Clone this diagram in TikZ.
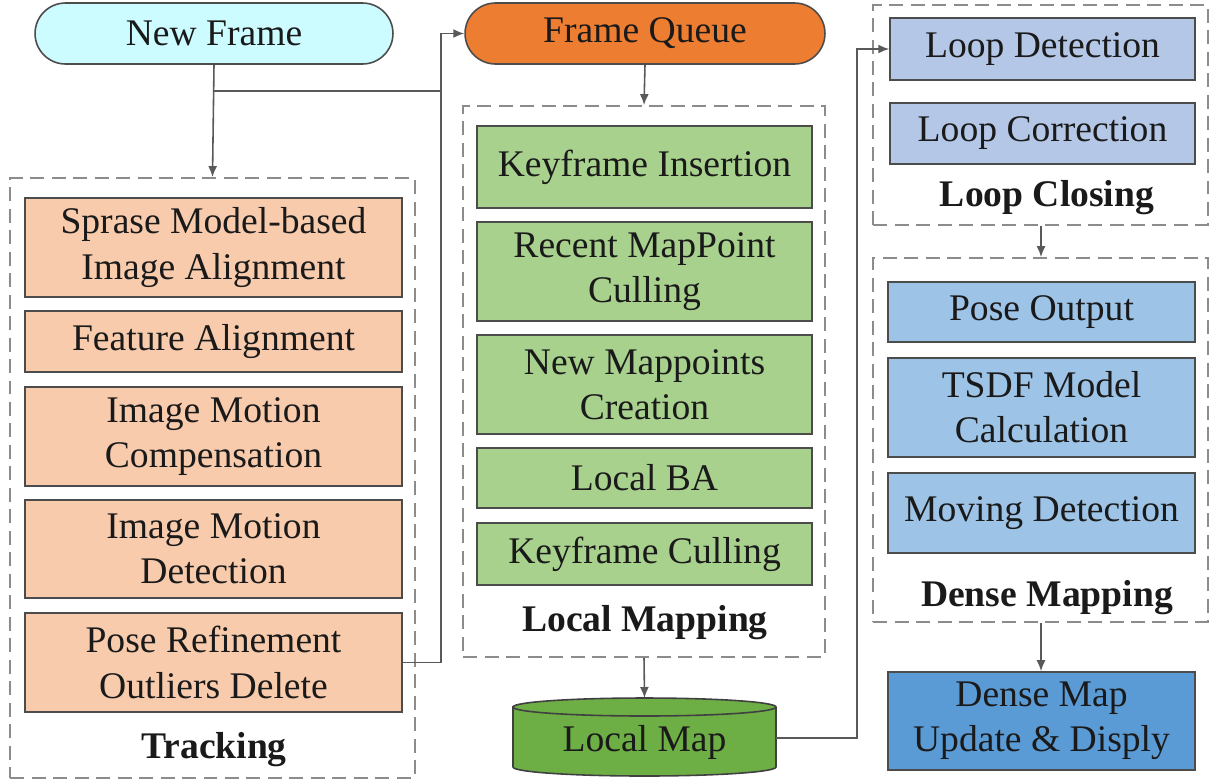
\documentclass[tikz,border=0pt]{standalone}
\usepackage{fontspec}
\setmainfont{Liberation Serif}
\usetikzlibrary{shapes.misc,arrows.meta}
\newcommand{\diagfs}{\fontsize{21.4}{25.7}\selectfont}
\definecolor{cpill}{HTML}{CCFCFF}
\definecolor{opill}{HTML}{ED7D31}
\definecolor{obox}{HTML}{F8CBAD}
\definecolor{gbox}{HTML}{A9D18E}
\definecolor{gcyl}{HTML}{6DAE45}
\definecolor{lbox}{HTML}{B4C7E7}
\definecolor{dbox}{HTML}{9DC3E6}
\definecolor{ubox}{HTML}{5B9BD5}
\definecolor{txt}{HTML}{1A1A1A}
\begin{document}
\begin{tikzpicture}[x=0.02cm,y=-0.02cm,
  box/.style={draw=black!70, line width=0.9pt, inner sep=0pt, align=center, font=\diagfs, text=txt},
  pill/.style={box, rounded rectangle, minimum width=7.16cm, minimum height=1.22cm},
  group/.style={draw=black!45, line width=1.1pt, dash pattern=on 0.28cm off 0.15cm, inner sep=0pt},
  glabel/.style={font=\diagfs\bfseries, text=txt, inner sep=0pt},
  conn/.style={draw=black!65, line width=0.9pt},
  arr/.style={conn, -{Latex[length=2.2mm,width=1.8mm]}}
]
\useasboundingbox (0,0) rectangle (1212,782);

% top pills
\node[pill, fill=cpill] (nf) at (214,33.5) {New Frame};
\node[pill, fill=opill, minimum width=7.2cm] (fq) at (645,33.5) {Frame Queue};

% Tracking
\node[group, minimum width=8.1cm, minimum height=12cm] (trk) at (212.5,478) {};
\node[box, fill=obox, minimum width=7.54cm, minimum height=1.98cm] (t1) at (213.5,247.5) {Sprase Model-based\\Image Alignment};
\node[box, fill=obox, minimum width=7.54cm, minimum height=1.22cm] (t2) at (213.5,341.5) {Feature Alignment};
\node[box, fill=obox, minimum width=7.54cm, minimum height=1.98cm] (t3) at (213.5,436.5) {Image Motion\\Compensation};
\node[box, fill=obox, minimum width=7.54cm, minimum height=1.96cm] (t4) at (213.5,549) {Image Motion\\Detection};
\node[box, fill=obox, minimum width=7.54cm, minimum height=1.98cm] (t5) at (213.5,662.5) {Pose Refinement\\Outliers Delete};
\node[glabel] (tl) at (214,750) {Tracking};

% Local Mapping
\node[group, minimum width=7.24cm, minimum height=11.02cm] (lm) at (644,381.5) {};
\node[box, fill=gbox, minimum width=6.7cm, minimum height=1.64cm] (l1) at (644.5,167) {Keyframe Insertion};
\node[box, fill=gbox, minimum width=6.7cm, minimum height=1.98cm] (l2) at (644.5,271.5) {Recent MapPoint\\Culling};
\node[box, fill=gbox, minimum width=6.7cm, minimum height=1.98cm] (l3) at (644.5,384.5) {New Mappoints\\Creation};
\node[box, fill=gbox, minimum width=6.7cm, minimum height=1.2cm] (l4) at (644.5,478) {Local BA};
\node[box, fill=gbox, minimum width=6.7cm, minimum height=1.24cm] (l5) at (644.5,554) {Keyframe Culling};
\node[glabel] (ll) at (645,623) {Local Mapping};

% Local Map cylinder
\draw[draw=black!75, line width=0.9pt, fill=gcyl]
  (513,707) -- (513,767) arc[start angle=180, end angle=360, x radius=2.63cm, y radius=0.18cm]
  -- (776,707) arc[start angle=0, end angle=180, x radius=2.63cm, y radius=0.18cm] -- cycle;
\draw[draw=black!75, line width=0.9pt]
  (513,707) arc[start angle=180, end angle=360, x radius=2.63cm, y radius=0.18cm];
\node[font=\diagfs, text=txt, inner sep=0pt] (lmap) at (644.5,742) {Local Map};
\coordinate (lmapT) at (644.5,698);
\coordinate (lmapR) at (776,738);

% Loop Closing
\node[group, minimum width=6.7cm, minimum height=4.4cm] (lc) at (1040.5,115) {};
\node[box, fill=lbox, minimum width=6.1cm, minimum height=1.24cm] (c1) at (1042.5,49) {Loop Detection};
\node[box, fill=lbox, minimum width=6.1cm, minimum height=1.22cm] (c2) at (1042.5,133.5) {Loop Correction};
\node[glabel] (cl) at (1047,198) {Loop Closing};

% Dense Mapping
\node[group, minimum width=6.7cm, minimum height=7.28cm] (dm) at (1040.5,440) {};
\node[box, fill=dbox, minimum width=6.14cm, minimum height=1.2cm] (d1) at (1041.5,312) {Pose Output};
\node[box, fill=dbox, minimum width=6.14cm, minimum height=1.98cm] (d2) at (1041.5,407.5) {TSDF Model\\Calculation};
\node[box, fill=dbox, minimum width=6.14cm, minimum height=1.6cm] (d3) at (1041.5,513) {Moving Detection};
\node[glabel] (dl) at (1047,598) {Dense Mapping};
\node[box, fill=ubox, minimum width=6.14cm, minimum height=1.96cm] (up) at (1041.5,721) {Dense Map\\Update \& Disply};

% connectors
\coordinate (vx) at (441,33.5);
\coordinate (j) at (214,91);
\draw[arr] (nf.south) -- (trk.north);
\draw[conn] (j) -- (j -| vx);
\draw[arr] (t5.east) -| (vx) -- (fq.west);
\draw[arr] (fq.south) -- (lm.north);
\draw[arr] (lm.south) -- (lmapT);
\coordinate (lx) at (857,738);
\draw[arr] (lmapR) -- (lx) |- (c1.west);
\draw[arr] (lc.south -| 1041,0) -- (dm.north -| 1041,0);
\draw[arr] (dm.south -| 1041,0) -- (up.north -| 1041,0);
\end{tikzpicture}
\end{document}
